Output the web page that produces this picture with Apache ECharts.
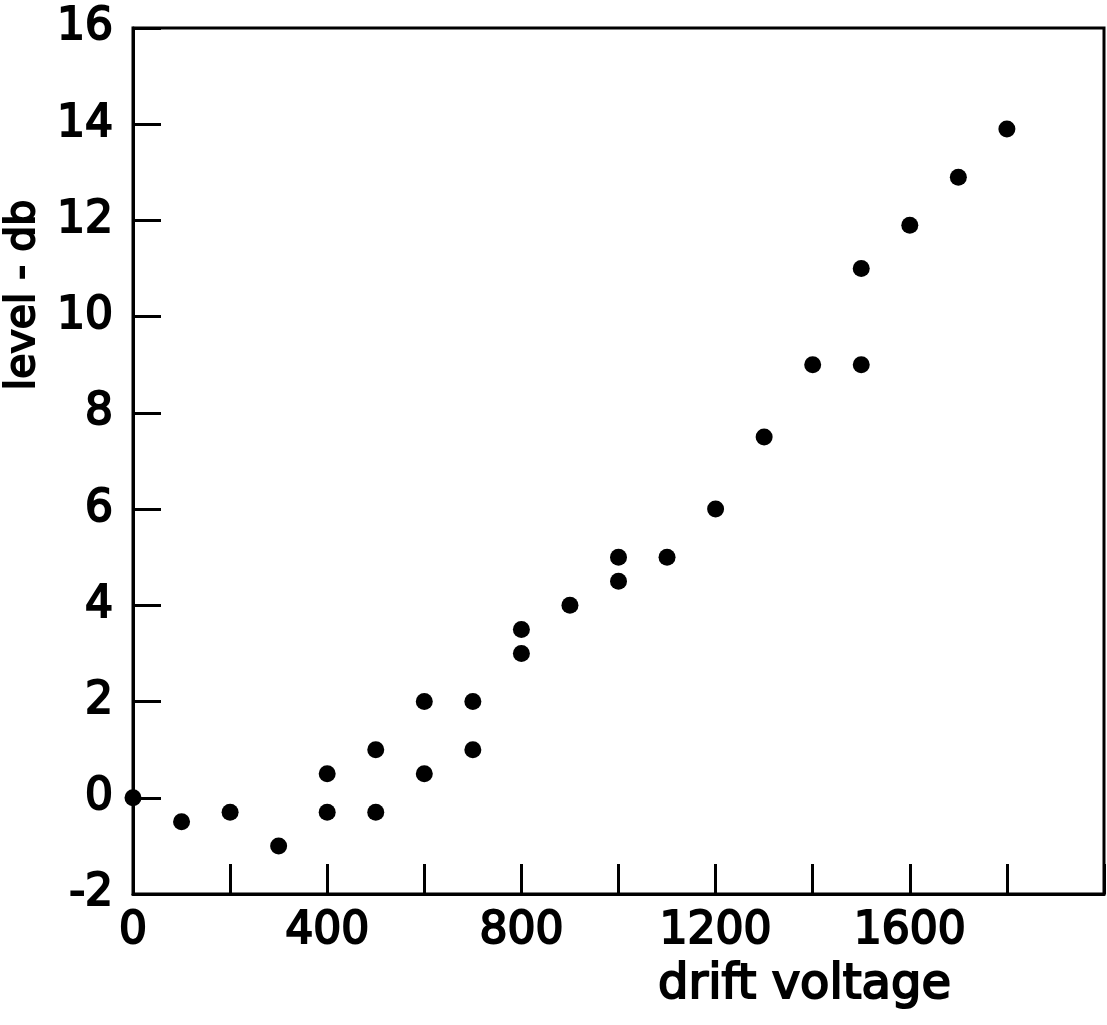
<!DOCTYPE html>
<html>
<head>
<meta charset="utf-8">
<script src="https://cdn.jsdelivr.net/npm/echarts@6/dist/echarts.min.js"></script>
<style>
html,body{margin:0;padding:0;background:#fff;}
#chart{width:1107px;height:1025px;}
</style>
</head>
<body>
<div id="chart"></div>
<script>
// drift voltage values
const driftVoltage = [0, 100, 200, 300, 400, 400, 500, 500, 600, 600, 700, 700, 800, 800, 900, 1000, 1000, 1100, 1200, 1300, 1400, 1500, 1500, 1600, 1700, 1800];
// level in db
const levelDb = [0, -0.5, -0.3, -1, 0.5, -0.3, 1, -0.3, 2, 0.5, 2, 1, 3.5, 3, 4, 5, 4.5, 5, 6, 7.5, 9, 9, 11, 11.9, 12.9, 13.9];
const xTickLabels = [0, 400, 800, 1200, 1600];
const yTickLabels = [-2, 0, 2, 4, 6, 8, 10, 12, 14, 16];

const points = driftVoltage.map((v, i) => [v, levelDb[i]]);
const font = 'DejaVu Sans';

const chart = echarts.init(document.getElementById('chart'));
chart.setOption({
  animation: false,
  backgroundColor: '#fff',
  grid: {
    left: 133, right: 3, top: 28, bottom: 131,
    outerBoundsMode: 'none', containLabel: false,
    show: true, borderColor: '#000', borderWidth: 3, backgroundColor: 'transparent'
  },
  xAxis: {
    type: 'value', min: 0, max: 2000, interval: 200,
    name: 'drift voltage', nameLocation: 'middle', nameGap: 68,
    nameTextStyle: { fontFamily: font, fontSize: 48, color: '#000', textBorderColor: '#000', textBorderWidth: 2, padding: [0, 0, 0, 372] },
    axisLine: { show: true, onZero: false, lineStyle: { color: '#000', width: 3 } },
    axisTick: { show: true, inside: true, length: 30, lineStyle: { color: '#000', width: 3 } },
    splitLine: { show: false },
    axisLabel: {
      margin: 16, fontFamily: font, fontSize: 44, color: '#000', textBorderColor: '#000', textBorderWidth: 2,
      formatter: v => xTickLabels.includes(v) ? String(v) : ''
    }
  },
  yAxis: {
    type: 'value', min: -2, max: 16, interval: 2,
    name: 'level - db', nameLocation: 'middle', nameGap: 75, nameRotate: 90,
    nameTextStyle: { fontFamily: font, fontSize: 41, color: '#000', textBorderColor: '#000', textBorderWidth: 2, padding: [0, 0, 0, 332] },
    axisLine: { show: true, onZero: false, lineStyle: { color: '#000', width: 3 } },
    axisTick: { show: true, inside: true, length: 28, lineStyle: { color: '#000', width: 3 } },
    splitLine: { show: false },
    axisLabel: {
      margin: 20, fontFamily: font, fontSize: 44, color: '#000', textBorderColor: '#000', textBorderWidth: 2,
      formatter: v => yTickLabels.includes(v) ? String(v) : ''
    }
  },
  series: [{
    type: 'scatter',
    data: points,
    symbol: 'circle',
    symbolSize: 17,
    clip: false,
    itemStyle: { color: '#000', opacity: 1 }
  }]
});
</script>
</body>
</html>
